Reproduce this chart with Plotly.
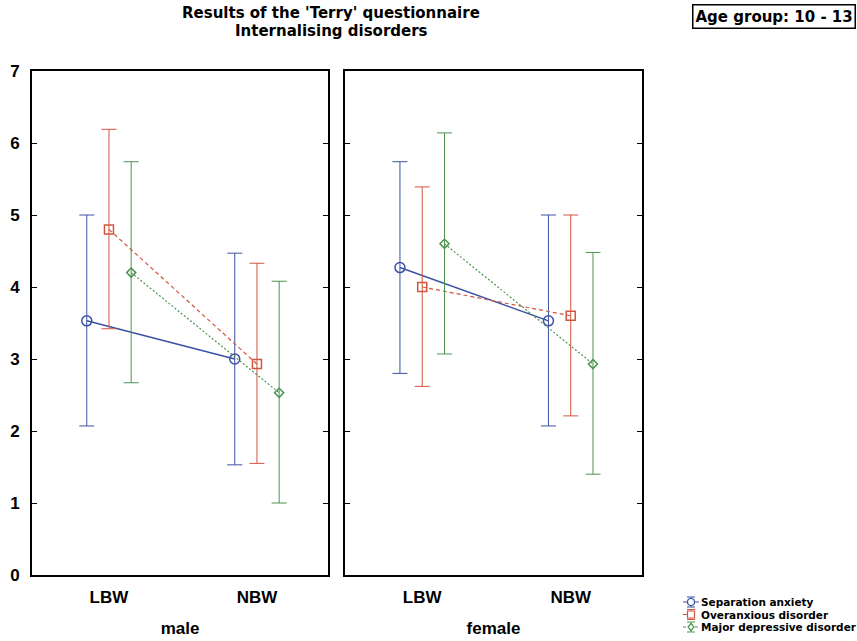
import numpy as np
import plotly.graph_objects as go

# ---------------- data ----------------
categories = ["LBW", "NBW"]
panels = ["male", "female"]
series = ["Separation anxiety", "Overanxious disorder", "Major depressive disorder"]

# male panel: means, upper and lower limits of the error bars
sep_male_mean = [3.53, 3.00]
sep_male_hi = [5.00, 4.47]
sep_male_lo = [2.07, 1.53]
over_male_mean = [4.80, 2.93]
over_male_hi = [6.19, 4.33]
over_male_lo = [3.42, 1.55]
dep_male_mean = [4.20, 2.53]
dep_male_hi = [5.74, 4.08]
dep_male_lo = [2.67, 1.00]

# female panel
sep_female_mean = [4.27, 3.53]
sep_female_hi = [5.74, 5.00]
sep_female_lo = [2.80, 2.07]
over_female_mean = [4.00, 3.60]
over_female_hi = [5.39, 5.00]
over_female_lo = [2.62, 2.21]
dep_female_mean = [4.60, 2.93]
dep_female_hi = [6.14, 4.48]
dep_female_lo = [3.07, 1.40]

y_ticks = [0, 1, 2, 3, 4, 5, 6, 7]

# ---------------- style ----------------
FONT = "Liberation Sans, Arial, sans-serif"
HEAVY = "DejaVu Sans, Liberation Sans, sans-serif"
colors = ["#3b52a3", "#d2553f", "#4d9350"]
dashes = ["solid", "4px,3px", "2px,2px"]
shape_dashes = ["solid", "dash", "dot"]
symbols = ["circle-open", "square-open", "diamond-open"]
msizes = [10, 9, 7]
lwidths = [1.5, 1.2, 1.2]
offsets = [-0.15, 0.0, 0.15]

data = {
    "male": [
        (sep_male_mean, sep_male_hi, sep_male_lo),
        (over_male_mean, over_male_hi, over_male_lo),
        (dep_male_mean, dep_male_hi, dep_male_lo),
    ],
    "female": [
        (sep_female_mean, sep_female_hi, sep_female_lo),
        (over_female_mean, over_female_hi, over_female_lo),
        (dep_female_mean, dep_female_hi, dep_female_lo),
    ],
}

fig = go.Figure()
cat_idx = np.arange(len(categories))

for p, panel in enumerate(panels):
    xa = "x" if p == 0 else "x2"
    ya = "y" if p == 0 else "y2"
    for s, name in enumerate(series):
        mean, hi, lo = (np.array(v, dtype=float) for v in data[panel][s])
        fig.add_trace(go.Scatter(
            x=cat_idx + offsets[s], y=mean,
            xaxis=xa, yaxis=ya,
            mode="lines+markers",
            name=name, legendgroup=name, showlegend=False,
            line=dict(color=colors[s], width=lwidths[s], dash=dashes[s]),
            marker=dict(symbol=symbols[s], size=msizes[s], color=colors[s],
                        line=dict(width=1.5, color=colors[s])),
            error_y=dict(type="data", symmetric=False,
                         array=hi - mean, arrayminus=mean - lo,
                         color=colors[s], thickness=1, width=7.5),
        ))

# ---------- layout geometry (pixels -> paper) ----------
ML, MR, MT, MB = 32, 215, 71, 66
W, H = 857, 641
PW, PH = W - ML - MR, H - MT - MB


def px2x(px):
    return (px - ML) / PW


def py2y(py):
    return (H - MB - py) / PH


# ---------- hand-drawn compact legend ----------
shapes = []
annotations = []
leg_rows = [602, 614.5, 627]
icon_cx = 691
for s, name in enumerate(series):
    cy = leg_rows[s]
    c = colors[s]
    shapes.append(dict(type="line", xref="paper", yref="paper",
                       x0=px2x(icon_cx - 8), x1=px2x(icon_cx + 8), y0=py2y(cy), y1=py2y(cy),
                       line=dict(color=c, width=1, dash=shape_dashes[s])))
    shapes.append(dict(type="line", xref="paper", yref="paper",
                       x0=px2x(icon_cx), x1=px2x(icon_cx), y0=py2y(cy - 5), y1=py2y(cy + 5),
                       line=dict(color=c, width=1)))
    for dy in (-5, 5):
        shapes.append(dict(type="line", xref="paper", yref="paper",
                           x0=px2x(icon_cx - 4), x1=px2x(icon_cx + 4),
                           y0=py2y(cy + dy), y1=py2y(cy + dy),
                           line=dict(color=c, width=1)))
    r = 3.5 if s < 2 else 3
    if s == 0:
        shapes.append(dict(type="circle", xref="paper", yref="paper",
                           x0=px2x(icon_cx - r), x1=px2x(icon_cx + r),
                           y0=py2y(cy + r), y1=py2y(cy - r),
                           line=dict(color=c, width=1.2), fillcolor="white"))
    elif s == 1:
        shapes.append(dict(type="rect", xref="paper", yref="paper",
                           x0=px2x(icon_cx - r), x1=px2x(icon_cx + r),
                           y0=py2y(cy + r), y1=py2y(cy - r),
                           line=dict(color=c, width=1.2), fillcolor="white"))
    else:
        path = "M {:.5f},{:.5f} L {:.5f},{:.5f} L {:.5f},{:.5f} L {:.5f},{:.5f} Z".format(
            px2x(icon_cx), py2y(cy - r - 0.5), px2x(icon_cx + r), py2y(cy),
            px2x(icon_cx), py2y(cy + r + 0.5), px2x(icon_cx - r), py2y(cy))
        shapes.append(dict(type="path", xref="paper", yref="paper", path=path,
                           line=dict(color=c, width=1.2), fillcolor="white"))
    annotations.append(dict(text=name, xref="paper", yref="paper",
                            x=px2x(699), y=py2y(cy), xanchor="left", yanchor="middle",
                            showarrow=False,
                            font=dict(size=10.5, weight="bold", family=HEAVY, color="black")))

# ---------- titles ----------
annotations += [
    dict(text="Results of the 'Terry' questionnaire", xref="paper", yref="paper",
         x=px2x(331), y=py2y(13), xanchor="center", yanchor="middle", showarrow=False,
         font=dict(size=15, weight="bold", family=HEAVY)),
    dict(text="Internalising disorders", xref="paper", yref="paper",
         x=px2x(331), y=py2y(31), xanchor="center", yanchor="middle", showarrow=False,
         font=dict(size=15, weight="bold", family=HEAVY)),
    dict(text="Age group: 10 - 13", xref="paper", yref="paper",
         x=px2x(692), y=py2y(16.5), xanchor="left", yanchor="middle", showarrow=False,
         bordercolor="black", borderwidth=1.5, borderpad=2, bgcolor="white",
         font=dict(size=15, weight="bold", family=HEAVY)),
]

axis_common = dict(showline=True, linecolor="black", linewidth=2, mirror=True,
                   showgrid=False, zeroline=False, automargin=False)

fig.update_layout(
    width=W, height=H,
    paper_bgcolor="white", plot_bgcolor="white",
    margin=dict(l=ML, r=MR, t=MT, b=MB),
    font=dict(family=FONT, color="black"),
    showlegend=False,
    xaxis=dict(domain=[0, 296 / PW], range=[-0.52, 1.48],
               tickvals=list(cat_idx), ticktext=categories, ticks="",
               tickfont=dict(size=17, weight="bold"), ticklabelstandoff=6,
               title=dict(text=panels[0], font=dict(size=17, weight="bold"), standoff=16),
               **axis_common),
    xaxis2=dict(domain=[313 / PW, 1.0], range=[-0.52, 1.48], anchor="y2",
                tickvals=list(cat_idx), ticktext=categories, ticks="",
                tickfont=dict(size=17, weight="bold"), ticklabelstandoff=6,
                title=dict(text=panels[1], font=dict(size=17, weight="bold"), standoff=16),
                **axis_common),
    yaxis=dict(domain=[0, 1], range=[0, 7], tickvals=y_ticks,
               ticks="inside", ticklen=5, tickwidth=1, tickcolor="black",
               tickfont=dict(size=17, weight="bold"), ticklabelstandoff=7,
               showline=True, linecolor="black", linewidth=2, mirror="ticks",
               showgrid=False, zeroline=False, automargin=False),
    yaxis2=dict(domain=[0, 1], range=[0, 7], tickvals=y_ticks, anchor="x2",
                ticks="inside", ticklen=5, tickwidth=1, tickcolor="black",
                showticklabels=False,
                showline=True, linecolor="black", linewidth=2, mirror="ticks",
                showgrid=False, zeroline=False, automargin=False),
    shapes=shapes,
    annotations=annotations,
)

fig.write_html("out.html",
               config={"displayModeBar": False},
               post_script="document.body.style.margin='0';document.body.style.overflow='hidden';")
